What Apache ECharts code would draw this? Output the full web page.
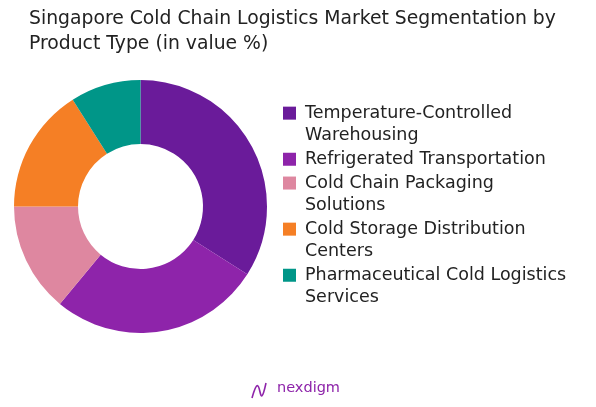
<!DOCTYPE html>
<html><head><meta charset="utf-8">
<script src="https://cdn.jsdelivr.net/npm/echarts@6/dist/echarts.min.js"></script>
<style>html,body{margin:0;padding:0;background:#fff}#c{width:596px;height:407px}</style>
</head><body><div id="c"></div>
<script>
const categories = [
  "Temperature-Controlled Warehousing",
  "Refrigerated Transportation",
  "Cold Chain Packaging Solutions",
  "Cold Storage Distribution Centers",
  "Pharmaceutical Cold Logistics Services"
];
const legendLines = [
  ["Temperature-Controlled", "Warehousing"],
  ["Refrigerated Transportation"],
  ["Cold Chain Packaging", "Solutions"],
  ["Cold Storage Distribution", "Centers"],
  ["Pharmaceutical Cold Logistics", "Services"]
];
const values = [34, 27, 14, 16, 9];
const colors = ["#6A1B9A", "#8E24AA", "#DE87A0", "#F57F25", "#009688"];

const rich = {
  t: { fontFamily: "DejaVu Sans", fontSize: 17.5, color: "#222", lineHeight: 22.3 },
  g: { width: 9, height: 13 },
  p: { width: 13, height: 13 }
};
colors.forEach((c, i) => { rich['s' + i] = { width: 13, height: 13, backgroundColor: c }; });

const chart = echarts.init(document.getElementById('c'));
chart.setOption({
  animation: false,
  title: {
    text: "Singapore Cold Chain Logistics Market Segmentation by\nProduct Type (in value %)",
    left: 24, top: 2,
    textStyle: { fontFamily: "DejaVu Sans", fontSize: 18.8, fontWeight: "normal", color: "#222", lineHeight: 25 }
  },
  legend: {
    orient: "vertical", left: 278, top: 102,
    icon: "none", itemWidth: 0, itemHeight: 0, itemGap: 1.5, padding: 0,
    data: categories,
    formatter: function (n) {
      const i = categories.indexOf(n);
      return legendLines[i].map((l, k) => (k === 0 ? '{s' + i + '|}' : '{p|}') + '{g|}{t|' + l + '}').join('\n');
    },
    textStyle: { fontFamily: "DejaVu Sans", fontSize: 17.5, color: "#222", lineHeight: 22.3, padding: 0, rich: rich }
  },
  series: [{
    type: "pie",
    center: [140.5, 206.5],
    radius: [62.5, 126.5],
    startAngle: 90,
    clockwise: true,
    label: { show: false },
    labelLine: { show: false },
    itemStyle: { borderColor: "#fff", borderWidth: 0 },
    data: categories.map((c, i) => ({ name: c, value: values[i], itemStyle: { color: colors[i] } }))
  }],
  graphic: [
    { type: "text", left: 277, top: 381, style: { text: "nexdigm", fontFamily: "DejaVu Sans", fontSize: 14.5, fontWeight: "normal", fill: "#8E24AA" } },
    { type: "bezierCurve", shape: { x1: 252, y1: 398, x2: 266, y2: 383, cpx1: 262, cpy1: 362, cpx2: 258, cpy2: 420 }, style: { stroke: "#8E24AA", lineWidth: 1.6, fill: null } }
  ]
});
</script></body></html>
